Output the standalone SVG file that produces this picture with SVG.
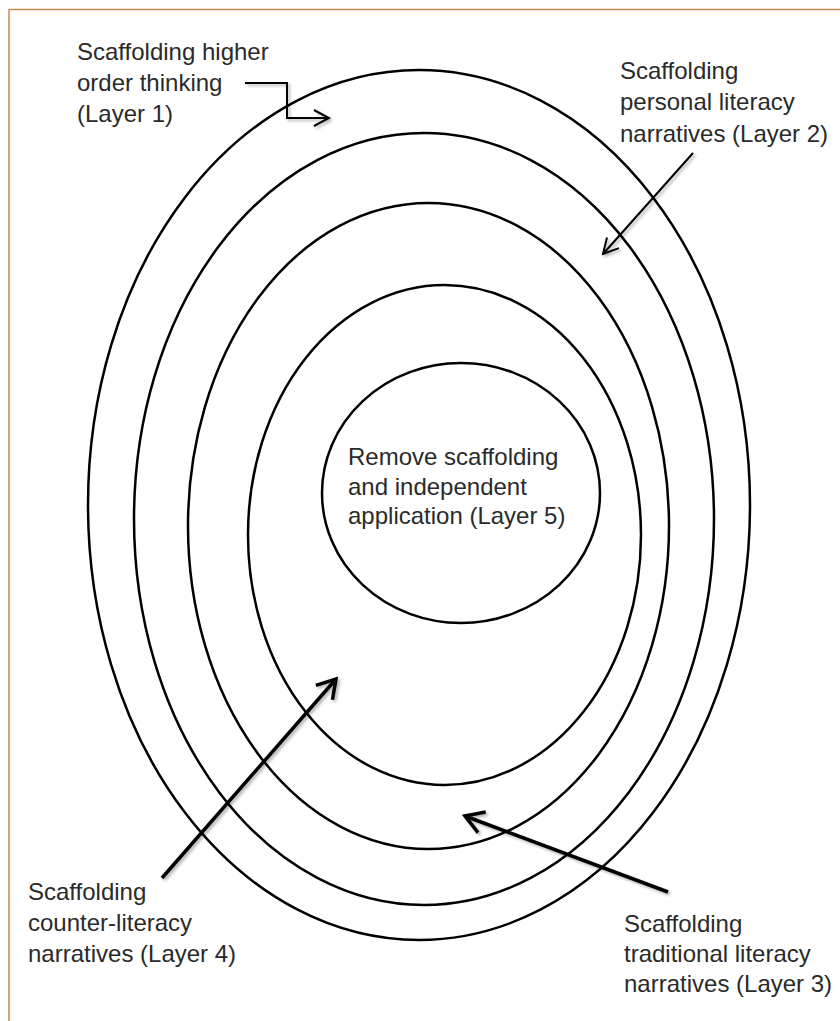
<svg xmlns="http://www.w3.org/2000/svg" width="840" height="1021" viewBox="0 0 840 1021">
<style>
.ring{fill:none;stroke:#000;stroke-width:2.5}
.lbl{font-family:"Liberation Sans",Arial,sans-serif;font-size:24px;fill:#2a2a2a}
.thin{fill:none;stroke:#000;stroke-width:2}
.thick{fill:none;stroke:#000;stroke-width:3.5}
</style>
<defs>
<filter id="sh" x="-20%" y="-20%" width="140%" height="140%">
<feDropShadow dx="2" dy="2" stdDeviation="1.5" flood-color="#000" flood-opacity="0.3"/>
</filter>
<marker id="ah" viewBox="-18 -10 20 20" refX="0" refY="0" markerWidth="20" markerHeight="20" markerUnits="userSpaceOnUse" orient="auto">
<path d="M-15,-8 L0,0 L-15,8" fill="none" stroke="#000" stroke-width="2"/>
</marker>
<marker id="ahb" viewBox="-22 -13 25 26" refX="0" refY="0" markerWidth="25" markerHeight="26" markerUnits="userSpaceOnUse" orient="auto">
<path d="M-18,-11 L0,0 L-18,11" fill="none" stroke="#000" stroke-width="3.5"/>
</marker>
</defs>
<rect width="840" height="1021" fill="#fff"/>
<path d="M9,1021 V9.5 H840" fill="none" stroke="#c98a52" stroke-width="1.5"/>
<g id="layer1"><ellipse class="ring" cx="419" cy="505" rx="331" ry="435"/></g>
<g id="layer2"><ellipse class="ring" cx="424" cy="519" rx="290" ry="386"/></g>
<g id="layer3"><ellipse class="ring" cx="428.5" cy="526" rx="240.5" ry="323"/></g>
<g id="layer4"><ellipse class="ring" cx="444.5" cy="535" rx="196.5" ry="250"/></g>
<g id="layer5"><ellipse class="ring" cx="461" cy="493" rx="139" ry="130"/>
<text class="lbl" x="348"><tspan x="348" y="465">Remove scaffolding</tspan><tspan x="348" y="495">and independent</tspan><tspan x="348" y="524">application (Layer 5)</tspan></text></g>
<g id="label1"><text class="lbl"><tspan x="77" y="60">Scaffolding higher</tspan><tspan x="77" y="91">order thinking</tspan><tspan x="77" y="122">(Layer 1)</tspan></text></g>
<g id="label2"><text class="lbl"><tspan x="620" y="79">Scaffolding</tspan><tspan x="620" y="110">personal literacy</tspan><tspan x="620" y="142">narratives (Layer 2)</tspan></text></g>
<g id="label3"><text class="lbl"><tspan x="624" y="932">Scaffolding</tspan><tspan x="624" y="962">traditional literacy</tspan><tspan x="624" y="992">narratives (Layer 3)</tspan></text></g>
<g id="label4"><text class="lbl"><tspan x="28" y="900">Scaffolding</tspan><tspan x="28" y="931">counter-literacy</tspan><tspan x="28" y="962">narratives (Layer 4)</tspan></text></g>
<g id="connectors" filter="url(#sh)">
<path class="thin" d="M245,83 H287 V118 H329" marker-end="url(#ah)"/>
<path class="thin" d="M693,153 L603,254" marker-end="url(#ah)"/>
<path class="thick" d="M668,892 L465,816" marker-end="url(#ahb)"/>
<path class="thick" d="M162,878 L336,679" marker-end="url(#ahb)"/>
</g>
</svg>
